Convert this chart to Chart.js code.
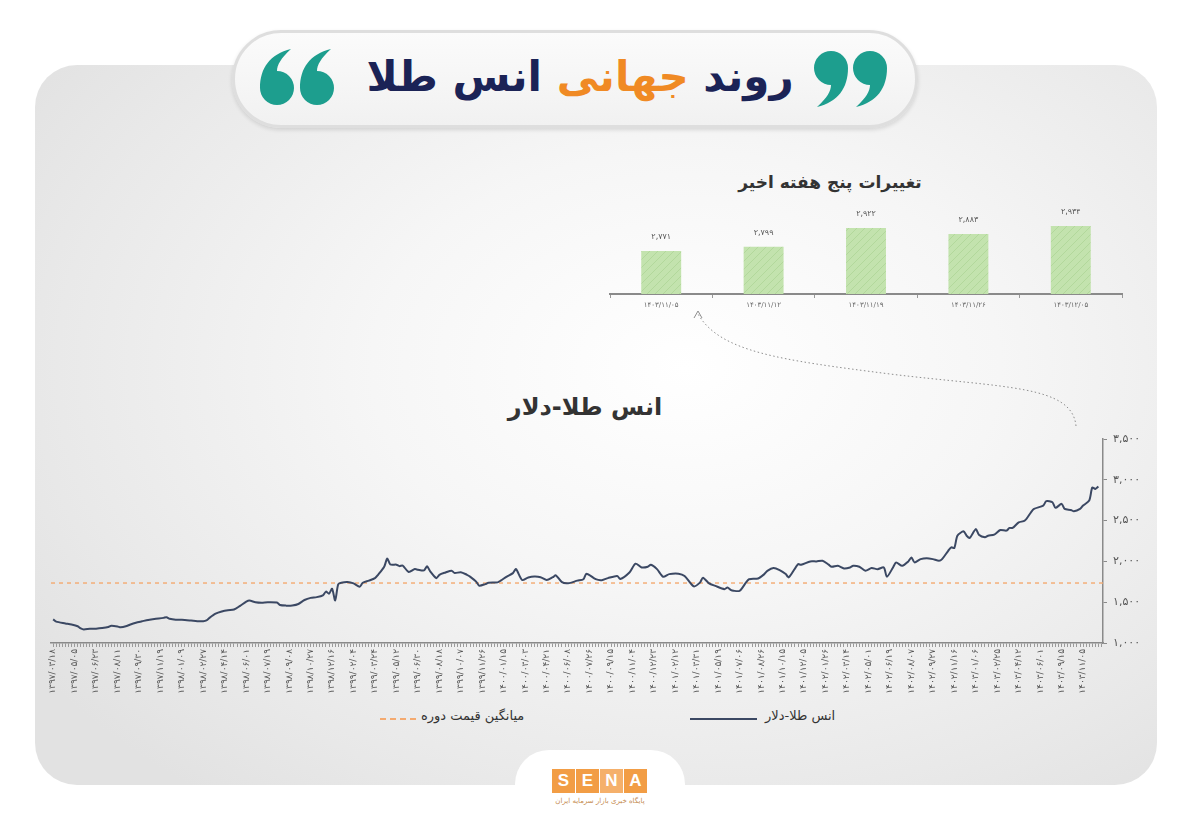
<!DOCTYPE html>
<html lang="fa">
<head>
<meta charset="utf-8">
<script src="https://cdn.jsdelivr.net/npm/chart.js@4.4.1/dist/chart.umd.min.js"></script>
<style>
  html,body{margin:0;padding:0;}
  body{width:1200px;height:831px;position:relative;overflow:hidden;background:#ffffff;font-family:"DejaVu Sans",sans-serif;}
  .abs{position:absolute;}
  #panel{left:35px;top:65px;width:1122px;height:720px;border-radius:42px;
    background:radial-gradient(ellipse 70% 75% at 58% 42%, #ffffff 0%, #f6f6f6 40%, #e9e9e9 80%, #e2e2e2 100%);}
  #pill{left:232px;top:30px;width:680px;height:92px;border-radius:49px;
    background:linear-gradient(#fbfbfb,#f1f1f1);border:3px solid #dedede;box-shadow:0 2px 4px rgba(0,0,0,0.12);}
  #title{left:330px;top:45px;width:500px;text-align:center;direction:rtl;font-weight:bold;font-size:42px;color:#1b2356;line-height:64px;white-space:nowrap;}
  #title .o{color:#f08a24;}
  #subTitle{left:700px;top:172px;width:260px;text-align:center;direction:rtl;font-weight:bold;font-size:17px;color:#333;white-space:nowrap;}
  #mainTitle{left:460px;top:393px;width:250px;text-align:center;direction:rtl;font-weight:bold;font-size:24px;color:#333;white-space:nowrap;}
  #legend{left:0;top:708px;width:1200px;height:20px;font-size:13px;color:#333;}
  .lgItem{position:absolute;top:0;direction:rtl;white-space:nowrap;}
  .sw{position:absolute;top:10px;height:0;}
  #logoTab{left:515px;top:750px;width:170px;height:100px;border-radius:34px 34px 0 0;background:#ffffff;}
  #sena{left:552px;top:769px;height:24px;display:flex;gap:1px;}
  #sena span{display:block;width:23px;height:24px;background:#f29d45;color:#fff;font-weight:bold;font-size:17px;line-height:24px;text-align:center;font-family:"Liberation Sans",sans-serif;}
  #sena span:nth-child(3){background:#f5b06b;}
  #senaTxt{left:540px;top:797px;width:120px;text-align:center;direction:rtl;font-size:7px;color:#c48a4f;white-space:nowrap;}
</style>
</head>
<body>
<div id="panel" class="abs"></div>
<div id="pill" class="abs"></div>
<svg class="abs" style="left:0;top:0" width="1200" height="831">
  <defs>
    <path id="q9" d="M36,18 C36,38 26,52 5,57 C15,48 19,41 19,35 A17,17 0 1 1 36,18 Z"/>
  </defs>
  <g fill="#1d9e8e">
    <use href="#q9" x="812" y="50"/>
    <use href="#q9" x="851" y="50"/>
    <use href="#q9" transform="rotate(180 278 78)" x="260" y="50"/>
    <use href="#q9" transform="rotate(180 318 78)" x="300" y="50"/>
  </g>
  <path d="M1076,426 C1072,385 1005,388 890,374 C780,360 720,352 698,314" fill="none" stroke="#8d8d8d" stroke-width="1" stroke-dasharray="1.5 2.5"/>
  <path d="M694,318 L698,311 L702,318" fill="none" stroke="#8d8d8d" stroke-width="1"/>
</svg>
<div id="title" class="abs">روند <span class="o">جهانی</span> انس طلا</div>
<div id="subTitle" class="abs">تغییرات پنج هفته اخیر</div>
<div id="mainTitle" class="abs">انس طلا-دلار</div>

<canvas id="barChart" class="abs" style="left:605px;top:200px" width="520" height="115"></canvas>
<canvas id="lineChart" class="abs" style="left:40px;top:425px" width="1118" height="283"></canvas>

<div id="legend" class="abs">
  <div class="sw" style="left:690px;width:67px;border-top:2px solid #3b4863;"></div>
  <div class="lgItem" style="left:765px;">انس طلا-دلار</div>
  <div class="sw" style="left:380px;width:36px;border-top:2px dashed #f4aa70;"></div>
  <div class="lgItem" style="left:421px;">میانگین قیمت دوره</div>
</div>

<div id="logoTab" class="abs"></div>
<div id="sena" class="abs"><span>S</span><span>E</span><span>N</span><span>A</span></div>
<div id="senaTxt" class="abs">پایگاه خبری بازار سرمایه ایران</div>

<script>
// ---------- data ----------
const dateLabels = [
  "۱۳۹۷/۰۳/۱۸","۱۳۹۷/۰۵/۰۵","۱۳۹۷/۰۶/۲۳","۱۳۹۷/۰۸/۱۱","۱۳۹۷/۰۹/۳۰","۱۳۹۷/۱۱/۱۹","۱۳۹۸/۰۱/۰۹",
  "۱۳۹۸/۰۲/۲۷","۱۳۹۸/۰۴/۱۴","۱۳۹۸/۰۶/۰۱","۱۳۹۸/۰۷/۱۹","۱۳۹۸/۰۹/۰۸","۱۳۹۸/۱۰/۲۷","۱۳۹۸/۱۲/۱۶",
  "۱۳۹۹/۰۲/۰۴","۱۳۹۹/۰۳/۲۴","۱۳۹۹/۰۵/۱۲","۱۳۹۹/۰۶/۳۰","۱۳۹۹/۰۸/۱۸","۱۳۹۹/۱۰/۰۷","۱۳۹۹/۱۱/۲۶",
  "۱۴۰۰/۰۱/۱۵","۱۴۰۰/۰۳/۰۳","۱۴۰۰/۰۴/۲۱","۱۴۰۰/۰۶/۰۸","۱۴۰۰/۰۷/۲۶","۱۴۰۰/۰۹/۱۵","۱۴۰۰/۱۱/۰۴",
  "۱۴۰۰/۱۲/۲۳","۱۴۰۱/۰۲/۱۲","۱۴۰۱/۰۳/۳۱","۱۴۰۱/۰۵/۱۹","۱۴۰۱/۰۷/۰۶","۱۴۰۱/۰۸/۲۶","۱۴۰۱/۱۰/۱۵",
  "۱۴۰۱/۱۲/۰۵","۱۴۰۲/۰۱/۲۶","۱۴۰۲/۰۳/۱۴","۱۴۰۲/۰۵/۰۱","۱۴۰۲/۰۶/۱۹","۱۴۰۲/۰۸/۰۷","۱۴۰۲/۰۹/۲۷",
  "۱۴۰۲/۱۱/۱۶","۱۴۰۳/۰۱/۰۶","۱۴۰۳/۰۲/۲۵","۱۴۰۳/۰۴/۱۲","۱۴۰۳/۰۶/۰۱","۱۴۰۳/۰۹/۱۵","۱۴۰۳/۱۱/۰۵"
];
const labelEvery = 7; // one date label every 7 weekly points

const weekIdx = [0,1,4,6,8,9,10,12,14,16,18,19,21,22,24,25,27,29,31,33,36,37,38,40,42,45,47,49,50,51,53,55,57,59,61,63,64,66,68,70,73,74,76,78,80,82,84,86,88,89,90,91,92,93,94,96,98,100,101,103,105,106,108,109,110,112,113,114,116,118,119,121,122,123,125,126,128,130,131,133,135,136,138,139,141,142,145,146,148,150,151,153,155,157,159,161,163,164,166,168,171,173,174,177,179,181,184,185,188,190,192,194,195,197,199,201,204,206,209,211,212,214,216,219,220,221,222,224,226,227,230,232,233,235,237,239,240,243,244,247,249,251,253,254,256,258,260,261,263,265,267,269,271,272,274,275,277,279,280,281,283,285,287,289,290,292,293,294,295,297,298,299,301,302,304,305,307,309,311,312,313,315,317,319,320,323,324,326,327,329,330,332,333,335,336,338,339,340,341];
const ounceUsd = [1290,1262,1240,1226,1205,1178,1165,1175,1176,1183,1196,1212,1203,1192,1208,1224,1249,1266,1283,1295,1308,1316,1297,1285,1284,1275,1268,1267,1276,1308,1359,1386,1402,1410,1456,1506,1520,1500,1494,1500,1496,1466,1458,1460,1478,1527,1553,1562,1584,1630,1605,1665,1522,1720,1738,1747,1730,1690,1738,1764,1795,1836,1935,2035,1962,1960,1942,1950,1870,1906,1898,1890,1940,1878,1795,1836,1864,1886,1857,1868,1836,1814,1752,1702,1722,1738,1743,1764,1814,1856,1905,1772,1802,1814,1806,1772,1806,1830,1745,1732,1764,1782,1850,1782,1770,1795,1822,1784,1864,1972,1926,1934,1958,1905,1812,1844,1850,1822,1694,1740,1800,1730,1700,1660,1680,1652,1640,1640,1740,1782,1790,1844,1884,1918,1893,1845,1805,1966,1958,2000,2000,2008,1960,1934,1946,1914,1926,1946,1934,1886,1918,1905,1926,1812,1926,1986,1946,2000,2048,1988,2028,2040,2028,2008,2028,2130,2172,2164,2315,2368,2315,2288,2396,2328,2296,2315,2328,2385,2377,2410,2410,2478,2500,2602,2643,2684,2738,2725,2656,2705,2643,2631,2615,2643,2684,2746,2905,2888,2918];
const periodAverage = 1735;

const yTicks = [1000,1500,2000,2500,3000,3500];

const recentWeeks = ["۱۴۰۳/۱۱/۰۵","۱۴۰۳/۱۱/۱۲","۱۴۰۳/۱۱/۱۹","۱۴۰۳/۱۱/۲۶","۱۴۰۳/۱۲/۰۵"];
const recentValues = [2771,2799,2922,2883,2934];

// ---------- helpers ----------
const faDigits = '۰۱۲۳۴۵۶۷۸۹';
const toFa = s => String(s).replace(/\d/g, d => faDigits[d]);
const faNum = n => toFa(Number(n).toLocaleString('en-US'));

const lastWeek = weekIdx[weekIdx.length - 1];

// ---------- main line chart ----------
new Chart(document.getElementById('lineChart'), {
  type: 'line',
  data: {
    datasets: [
      {
        label: 'انس طلا-دلار',
        data: weekIdx.map((w, i) => ({x: w, y: ounceUsd[i]})),
        borderColor: '#3b4863',
        borderWidth: 2,
        pointRadius: 0,
        tension: 0.25,
        fill: false
      },
      {
        label: 'میانگین قیمت دوره',
        data: [{x: -0.7, y: periodAverage}, {x: lastWeek + 1.5, y: periodAverage}],
        borderColor: '#f4aa70',
        borderWidth: 1.4,
        borderDash: [4, 4],
        pointRadius: 0,
        fill: false
      }
    ]
  },
  options: {
    responsive: false,
    devicePixelRatio: 1,
    animation: false,
    layout: {padding: {left: 11, top: 14, right: 0, bottom: 0}},
    plugins: {legend: {display: false}, tooltip: {enabled: false}},
    scales: {
      x: {
        type: 'linear',
        min: -0.7,
        max: lastWeek + 1.5,
        afterBuildTicks: (scale) => {
          const t = [];
          for (let i = 0; i <= lastWeek + 1; i++) t.push({value: i});
          scale.ticks = t;
        },
        afterFit: (scale) => { scale.height = 65; },
        ticks: {
          autoSkip: false,
          minRotation: 90,
          maxRotation: 90,
          padding: 2,
          font: {family: 'DejaVu Sans', size: 9},
          color: '#555',
          callback: (v) => (v % labelEvery === 0 && v / labelEvery < dateLabels.length) ? dateLabels[v / labelEvery] : ''
        },
        grid: {display: true, drawOnChartArea: false, drawTicks: true, tickLength: 4, color: '#9a9a9a', lineWidth: 1},
        border: {display: true, color: '#8a8a8a', width: 1.5}
      },
      y: {
        position: 'right',
        min: 1000,
        max: 3500,
        afterBuildTicks: (scale) => { scale.ticks = yTicks.map(v => ({value: v})); },
        afterFit: (scale) => { scale.width = 55; },
        ticks: {
          padding: 6,
          font: {family: 'DejaVu Sans', size: 11},
          color: '#555',
          callback: (v) => faNum(v)
        },
        grid: {display: true, drawOnChartArea: false, drawTicks: true, tickLength: 4, color: '#8a8a8a'},
        border: {display: true, color: '#8a8a8a', width: 1.5}
      }
    }
  }
});

// ---------- recent five weeks bar chart ----------
function hatchPattern() {
  const c = document.createElement('canvas');
  c.width = 8; c.height = 8;
  const g = c.getContext('2d');
  g.fillStyle = '#c3e3ae';
  g.fillRect(0, 0, 8, 8);
  g.strokeStyle = '#b2d89b';
  g.lineWidth = 1;
  g.beginPath();
  g.moveTo(0, 8); g.lineTo(8, 0);
  g.moveTo(-4, 4); g.lineTo(4, -4);
  g.moveTo(4, 12); g.lineTo(12, 4);
  g.stroke();
  return g.createPattern(c, 'repeat');
}

const barValueLabels = {
  id: 'barValueLabels',
  afterDatasetsDraw(chart) {
    const ctx = chart.ctx;
    const meta = chart.getDatasetMeta(0);
    ctx.save();
    ctx.font = '8px "DejaVu Sans"';
    ctx.fillStyle = '#555';
    ctx.textAlign = 'center';
    ctx.textBaseline = 'bottom';
    meta.data.forEach((el, i) => ctx.fillText(faNum(recentValues[i]), el.x, el.y - 10));
    ctx.restore();
  }
};

new Chart(document.getElementById('barChart'), {
  type: 'bar',
  data: {
    labels: recentWeeks,
    datasets: [{data: recentValues, backgroundColor: hatchPattern(), borderWidth: 0, barPercentage: 0.39, categoryPercentage: 1}]
  },
  options: {
    responsive: false,
    devicePixelRatio: 1,
    animation: false,
    layout: {padding: {left: 5, right: 3, top: 16, bottom: 0}},
    plugins: {legend: {display: false}, tooltip: {enabled: false}},
    scales: {
      x: {
        afterFit: (scale) => { scale.height = 21; },
        ticks: {font: {family: 'DejaVu Sans', size: 7}, color: '#666', padding: 3, maxRotation: 0},
        grid: {display: true, offset: true, drawOnChartArea: false, tickLength: 4, color: '#999'},
        border: {display: true, color: '#8a8a8a', width: 2}
      },
      y: {display: false, min: 2490, max: 3000}
    }
  },
  plugins: [barValueLabels]
});
</script>
</body>
</html>
